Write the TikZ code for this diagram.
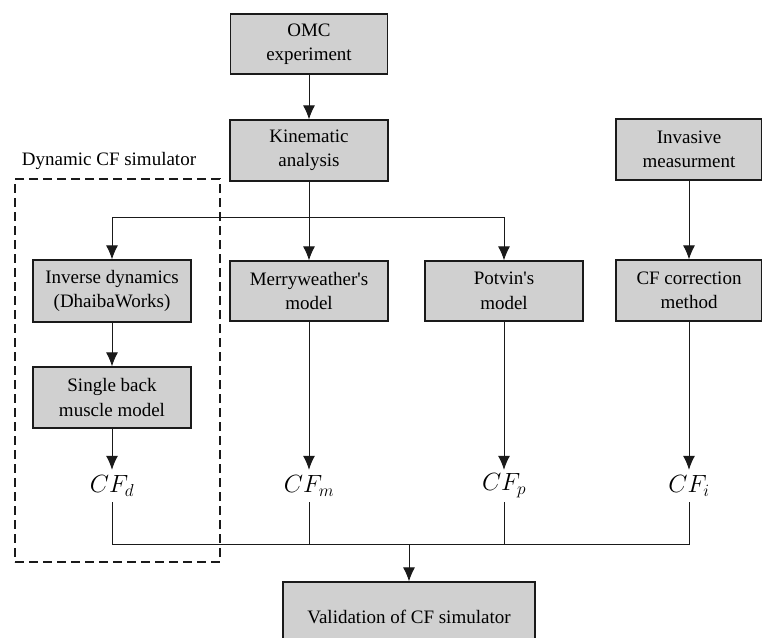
\documentclass[tikz,border=0pt]{standalone}
\usepackage{fontspec}
\setmainfont{Liberation Serif}[Ligatures=TeX]
\usetikzlibrary{arrows.meta}
\definecolor{boxgray}{HTML}{D0D0D0}
\definecolor{ink}{HTML}{1A1A1A}
\begin{document}
\begin{tikzpicture}[x=1pt,y=-1pt,
  txt/.style={font=\rmfamily\fontsize{19}{24.5}\selectfont},
  box/.style={txt, draw=ink, fill=boxgray, line width=1.2pt, align=center, inner sep=0pt,
    minimum width=158pt, minimum height=61pt},
  lab/.style={inner sep=0pt, minimum height=32pt, font=\fontsize{24}{28}\selectfont},
  conn/.style={draw=ink, line width=1pt},
  arr/.style={conn, -{Latex[length=14pt,width=12pt]}},
  simbox/.style={draw=ink, line width=2pt, dash pattern=on 9pt off 5pt, inner sep=0pt,
    minimum width=205pt, minimum height=383pt}]
\useasboundingbox (0,0) rectangle (762,637);
\clip (0,0) rectangle (762,637);
% boxes
\node[box, minimum width=157pt, minimum height=60pt] (omc) at (309,44) {OMC\\experiment};
\node[box] (kin) at (309,150.5) {Kinematic\\analysis};
\node[box, minimum width=146pt] (inv) at (689,149.5) {Invasive\\measurment};
\node[box, minimum height=62pt] (id) at (112,291) {Inverse dynamics\\(DhaibaWorks)};
\node[box, minimum height=60pt] (mer) at (309,291) {Merryweather\textquotesingle s\\model};
\node[box, minimum height=60pt] (pot) at (504,291) {Potvin\textquotesingle s\\model};
\node[box, minimum width=146pt] (cfc) at (689,290.5) {CF correction\\method};
\node[box] (sbm) at (112,397.5) {Single back\\muscle model};
\node[box, minimum width=252pt, minimum height=70pt] (val) at (409,617) {Validation of CF simulator};
% dashed group
\node[simbox] (sim) at (117.5,370.5) {};
\node[txt, inner sep=0pt] (simlab) at (109,161) {Dynamic CF simulator};
% CF labels
\node[lab] (cfd) at (112,486) {$CF_d$};
\node[lab] (cfm) at (309,486) {$CF_m$};
\node[lab] (cfp) at (504,486) {$CF_p$};
\node[lab] (cfi) at (689,486) {$CF_i$};
% coordinates
\coordinate (bl) at (112,217);
\coordinate (br) at (504,217);
\coordinate (bus) at (409,544);
% connectors
\draw[arr] (omc) -- (kin);
\draw[arr] (kin) -- (mer);
\draw[conn] (bl) -- (br);
\draw[arr] (bl) -- (id);
\draw[arr] (br) -- (pot);
\draw[arr] (inv) -- (cfc);
\draw[arr] (id) -- (sbm);
\draw[arr] (sbm) -- (cfd);
\draw[arr] (mer) -- (cfm);
\draw[arr] (pot) -- (cfp);
\draw[arr] (cfc) -- (cfi);
\draw[conn] (cfd.south) -- (cfd.south |- bus) -- (cfi.south |- bus) -- (cfi.south);
\draw[conn] (cfm.south) -- (cfm.south |- bus);
\draw[conn] (cfp.south) -- (cfp.south |- bus);
\draw[arr] (bus) -- (val);
\end{tikzpicture}
\end{document}
